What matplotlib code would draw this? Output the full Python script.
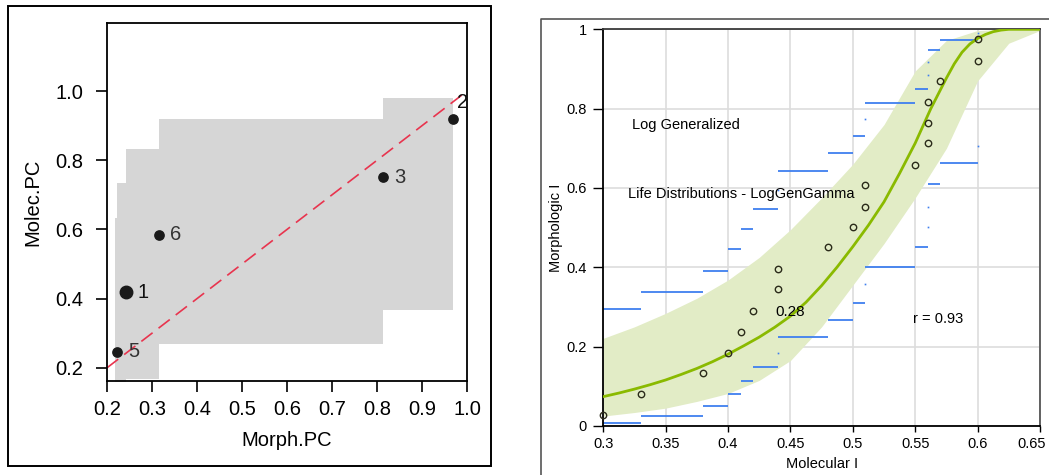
import numpy as np
import matplotlib
matplotlib.use("Agg")
import matplotlib.pyplot as plt
from matplotlib.patches import Rectangle
from matplotlib.lines import Line2D
from matplotlib.transforms import ScaledTranslation

plt.rcParams['font.family'] = ['Liberation Sans', 'DejaVu Sans']

# ---- left panel data (Morph.PC vs Molec.PC)
pt_labels = ['1', '2', '3', '5', '6']
morph_pc = [0.242, 0.968, 0.813, 0.2215, 0.315]
molec_pc = [0.419, 0.918, 0.751, 0.247, 0.585]
pt_size = [9.0, 6.7, 6.7, 6.7, 6.7]

band_x = [0.2185, 0.2215, 0.242, 0.315, 0.813, 0.968]
band_hi = [0.632, 0.735, 0.834, 0.918, 0.980]
band_lo = [0.10, 0.10, 0.168, 0.269, 0.367]
diag_x = [0.2, 0.99]

# ---- right panel data (Molecular I vs Morphologic I)
mol_i = [0.30, 0.33, 0.38, 0.40, 0.41, 0.42, 0.44, 0.44, 0.48, 0.50,
         0.51, 0.51, 0.55, 0.56, 0.56, 0.56, 0.57, 0.60, 0.60]
mor_i = [0.028, 0.081, 0.133, 0.185, 0.238, 0.290, 0.345, 0.396, 0.450, 0.501,
         0.552, 0.607, 0.658, 0.713, 0.764, 0.818, 0.869, 0.920, 0.975]
step_hi = [0.294, 0.337, 0.391, 0.445, 0.497, 0.548, 0.595, 0.642, 0.687,
           0.731, 0.774, 0.813, 0.850, 0.885, 0.918, 0.948, 0.973, 0.991]
step_lo = [0.008, 0.025, 0.050, 0.080, 0.114, 0.148, 0.185, 0.225, 0.267,
           0.311, 0.357, 0.402, 0.450, 0.501, 0.553, 0.609, 0.662, 0.706]

fit_x = [0.30, 0.3125, 0.325, 0.3375, 0.35, 0.3625, 0.375, 0.3875, 0.40, 0.4125,
         0.425, 0.4375, 0.45, 0.4625, 0.475, 0.4875, 0.50, 0.5125, 0.525, 0.5375,
         0.55, 0.5625, 0.575, 0.5813, 0.5875, 0.5938, 0.60, 0.6063, 0.6125,
         0.6188, 0.625, 0.65]
fit_y = [0.074, 0.083, 0.093, 0.104, 0.116, 0.130, 0.145, 0.162, 0.181, 0.202,
         0.224, 0.249, 0.277, 0.312, 0.354, 0.401, 0.452, 0.506, 0.565, 0.637,
         0.713, 0.800, 0.877, 0.913, 0.942, 0.963, 0.977, 0.987, 0.994,
         0.998, 1.0, 1.0]
ci_x = [0.30, 0.325, 0.35, 0.375, 0.40, 0.425, 0.45, 0.475, 0.50, 0.525,
        0.55, 0.575, 0.60, 0.625, 0.65]
ci_hi = [0.221, 0.250, 0.284, 0.322, 0.368, 0.425, 0.495, 0.575, 0.660, 0.760,
         0.895, 0.972, 0.997, 1.0, 1.0]
ci_lo = [0.025, 0.034, 0.045, 0.062, 0.082, 0.115, 0.165, 0.250, 0.355, 0.460,
         0.575, 0.700, 0.870, 0.965, 0.997]

fig = plt.figure(figsize=(10.49, 4.75), dpi=100)

# ================= left panel =================
ax1 = fig.add_axes([0.102, 0.198, 0.3432, 0.7537])
ax1.fill_between(band_x, band_lo + [band_lo[-1]], band_hi + [band_hi[-1]],
                 step='post', color='#d6d6d6', lw=0, zorder=1)
ax1.plot(diag_x, diag_x, color='#e8344e', lw=1.2, dashes=(8.5, 4.5), zorder=2)
for lab, x, y, s in zip(pt_labels, morph_pc, molec_pc, pt_size):
    ax1.plot(x, y, 'o', ms=s, color='#1a1a1a', zorder=3)
    if lab == '2':
        ax1.annotate(lab, (x, y), xytext=(3, 12), textcoords='offset points',
                     ha='left', va='center', fontsize=14.5, color='#111111')
    else:
        ax1.annotate(lab, (x, y), xytext=(8, 0), textcoords='offset points',
                     ha='left', va='center', fontsize=14.5,
                     color='#111111' if lab == '1' else '#333333')
ax1.set_xlim(0.2, 1.0)
ax1.set_ylim(0.162, 1.197)
ax1.set_xticks(np.arange(0.2, 1.01, 0.1))
ax1.set_xticklabels(['%.1f' % v for v in np.arange(0.2, 1.01, 0.1)])
ax1.set_yticks([0.2, 0.4, 0.6, 0.8, 1.0])
ax1.set_yticklabels(['0.2', '0.4', '0.6', '0.8', '1.0'])
ax1.tick_params(axis='x', length=8, width=1.2, pad=6, labelsize=14.5)
ax1.tick_params(axis='y', length=8, width=1.2, pad=9, labelsize=14.5)
for sp in ax1.spines.values():
    sp.set_linewidth(1.3)
ax1.set_xlabel('Morph.PC', fontsize=14.5)
ax1.set_ylabel('Molec.PC', fontsize=14.5)
ax1.xaxis.set_label_coords(0.5, -0.140)
ax1.yaxis.set_label_coords(-0.180, 0.5)

fig.add_artist(Rectangle((0.0076, 0.0189), 0.4604, 0.9684, transform=fig.transFigure,
                         fill=False, ec='black', lw=1.4))

# ================= right panel =================
ax2 = fig.add_axes([0.5751, 0.1032, 0.4163, 0.8351])
ax2.set_xlim(0.3, 0.65)
ax2.set_ylim(0, 1)
ax2.grid(True, color='#dddddd', lw=1.2, zorder=0)
ax2.set_axisbelow(True)
ax2.fill_between(ci_x, ci_lo, ci_hi, color='#e2ecc6', lw=0, zorder=1)
ax2.plot(fit_x, fit_y, color='#8aba00', lw=2.0, zorder=3)
ax2.hlines(step_hi, mol_i[:-1], mol_i[1:], color='#3f7fef', lw=1.3, zorder=2)
ax2.hlines(step_lo, mol_i[:-1], mol_i[1:], color='#3f7fef', lw=1.3, zorder=2)
for i in range(len(mol_i) - 1):
    if mol_i[i] == mol_i[i + 1]:
        ax2.plot([mol_i[i]] * 2, [step_hi[i], step_lo[i]], ls='none', marker='s',
                 ms=1.2, mew=0, color='#3f7fef', zorder=2)
ax2.plot(mol_i, mor_i, 'o', ms=4.6, mfc='none', mec='#2b2b1a', mew=1.0,
         zorder=4, clip_on=False)

ax2.text(0.3227, 0.760, 'Log Generalized', fontsize=10.5, va='center', ha='left')
ax2.text(0.3200, 0.584, 'Life Distributions - LogGenGamma', fontsize=10.5,
         va='center', ha='left', zorder=5)
ax2.text(0.4376, 0.287, '0.28', fontsize=11, va='center', ha='left', zorder=5)
ax2.text(0.5480, 0.269, 'r = 0.93', fontsize=10.5, va='center', ha='left')

xt = [0.3, 0.35, 0.4, 0.45, 0.5, 0.55, 0.6, 0.65]
ax2.set_xticks(xt)
ax2.set_xticklabels(['0.3', '0.35', '0.4', '0.45', '0.5', '0.55', '0.6', '0.65'])
ax2.set_yticks([0, 0.2, 0.4, 0.6, 0.8, 1.0])
ax2.set_yticklabels(['0', '0.2', '0.4', '0.6', '0.8', '1'])
ax2.tick_params(axis='x', length=4, width=1, pad=4, labelsize=10.5)
ax2.tick_params(axis='y', length=7, width=1, pad=5, labelsize=10.5)
last = ax2.get_xticklabels()[-1]
last.set_transform(last.get_transform() + ScaledTranslation(-8 / 100, 0, fig.dpi_scale_trans))
ax2.spines['left'].set_color('black')
ax2.spines['bottom'].set_color('black')
ax2.spines['top'].set_color('#3a3a3a')
ax2.spines['right'].set_color('#555555')
for sp in ax2.spines.values():
    sp.set_linewidth(1.3)
ax2.set_xlabel('Molecular I', fontsize=10.5)
ax2.set_ylabel('Morphologic I', fontsize=10.5)
ax2.xaxis.set_label_coords(0.5, -0.078)
ax2.yaxis.set_label_coords(-0.093, 0.5)

fig.add_artist(Line2D([541 / 1049, 541 / 1049, 1.0], [0.0, 1 - 19 / 475, 1 - 19 / 475],
                      transform=fig.transFigure, color='#555555', lw=1.2))

fig.savefig('out.png', dpi=100)
